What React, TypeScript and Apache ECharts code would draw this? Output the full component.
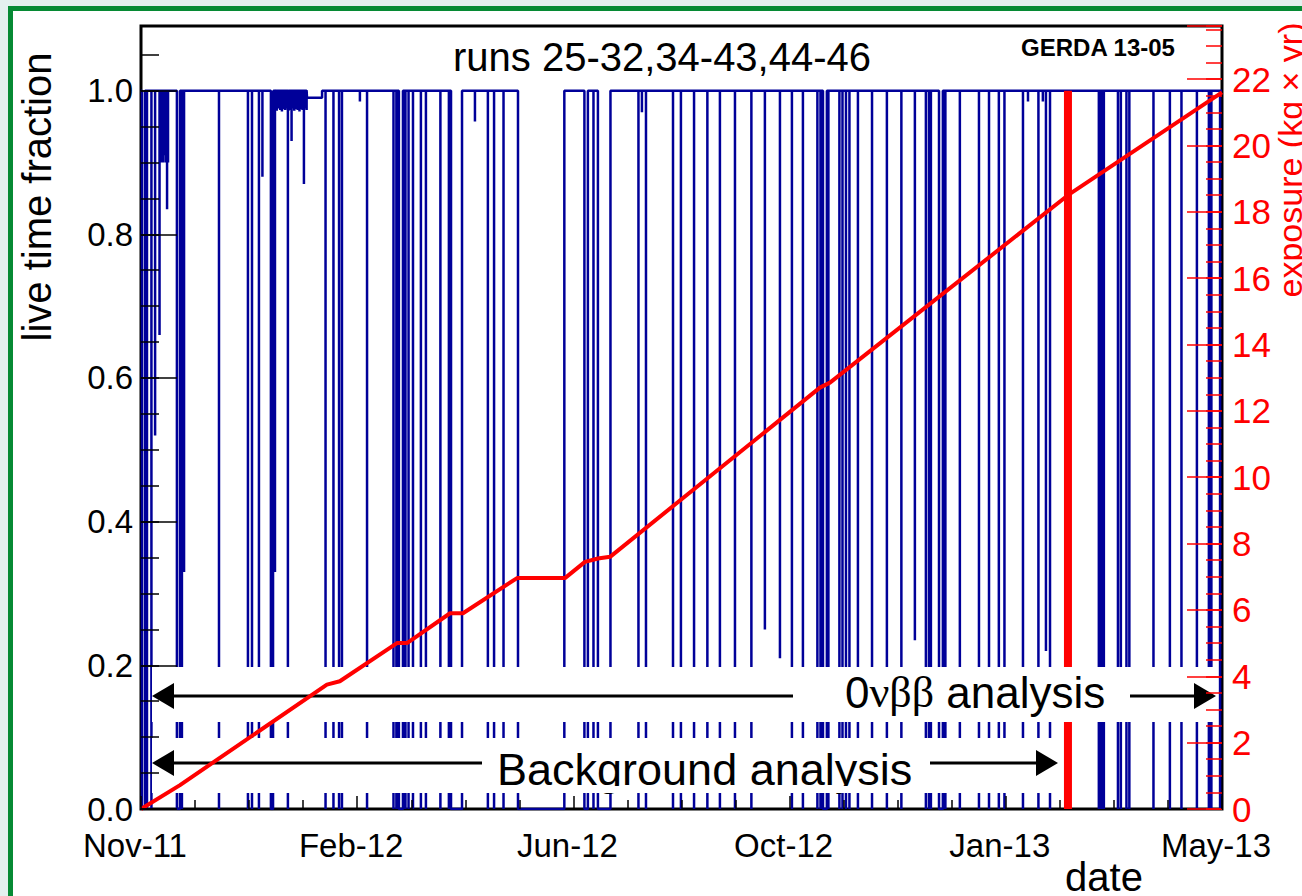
import React, { useEffect, useRef } from 'react';
import * as echarts from 'echarts';

// ---- axis definitions ----
const xTickLabels = ['Nov-11', 'Feb-12', 'Jun-12', 'Oct-12', 'Jan-13', 'May-13'];
const xTickStepDays = 112; // days between labelled ticks
const totalDays = 560; // Nov 9 2011 -> May 21 2013

// ---- live time fraction: dips below 1.0 (days since start) ----
const dipStart = [0.5, 3.1, 5.4, 7.3, 9.6, 10.9, 11.6, 12.3, 13.0, 13.5, 14.0, 18.6, 21.2, 22.3, 40.4, 55.4, 57.5, 61.1, 62.9, 67.3, 68.6, 69.4, 69.6, 70.3, 71.2, 72.1, 73.0, 73.9, 74.7, 75.4, 76.1, 76.4, 76.9, 77.6, 78.0, 78.6, 79.4, 80.3, 81.2, 82.1, 82.9, 83.7, 84.4, 85.1, 85.8, 86.0, 95.6, 99.7, 102.6, 104.1, 113.4, 117.1, 130.8, 132.3, 133.6, 137.0, 138.6, 140.9, 145.0, 147.6, 155.1, 159.5, 160.6, 173.0, 179.7, 182.9, 187.8, 195.3, 229.7, 234.4, 236.7, 257.7, 259.5, 261.6, 275.6, 279.7, 286.5, 293.4, 299.9, 307.7, 316.2, 323.2, 331.0, 337.2, 342.9, 350.4, 352.0, 353.3, 356.1, 361.8, 363.4, 365.2, 367.0, 371.4, 378.7, 386.4, 393.9, 400.9, 406.6, 408.2, 409.2, 413.4, 416.7, 424.2, 434.1, 439.3, 444.4, 447.3, 456.9, 459.5, 464.9, 467.2, 468.8, 470.9, 496.2, 497.5, 498.8, 506.1, 507.6, 510.5, 512.0, 524.5, 533.0, 539.0, 547.0, 553.2, 554.5, 559.0];
const dipEnd = [2.1, 3.1, 5.4, 7.3, 9.6, 10.9, 11.6, 12.3, 13.0, 13.5, 14.0, 20.2, 21.2, 22.3, 40.4, 55.4, 57.5, 61.1, 62.9, 68.4, 68.6, 69.4, 69.6, 70.3, 71.2, 72.1, 73.0, 73.9, 74.7, 75.4, 76.1, 76.4, 76.9, 77.6, 78.0, 78.6, 79.4, 80.3, 81.2, 82.1, 82.9, 83.7, 84.4, 85.1, 85.8, 93.8, 95.6, 99.7, 102.6, 104.1, 113.4, 117.1, 130.8, 132.3, 135.7, 137.0, 138.6, 140.9, 145.0, 147.6, 155.1, 159.5, 166.3, 173.0, 179.7, 182.9, 187.8, 219.3, 231.5, 234.4, 243.2, 257.7, 259.5, 261.6, 275.6, 279.7, 286.5, 293.4, 299.9, 307.7, 316.2, 323.2, 331.0, 337.2, 342.9, 350.4, 352.0, 355.3, 356.1, 361.8, 363.4, 365.2, 367.0, 371.4, 378.7, 386.4, 393.9, 400.9, 406.6, 408.2, 409.2, 415.4, 416.7, 424.2, 434.1, 439.3, 444.4, 447.3, 456.9, 459.5, 464.9, 467.2, 468.8, 470.9, 496.2, 497.5, 498.8, 506.1, 507.6, 510.5, 512.0, 524.5, 533.0, 539.0, 547.0, 553.2, 554.5, 559.0];
const dipLevel = [0, 0, 0, 0.52, 0.66, 0.9, 0.9, 0.91, 0.9, 0.835, 0.9, 0, 0, 0.33, 0, 0, 0, 0, 0.88, 0, 0.973, 0.33, 0.974, 0.972, 0.975, 0.973, 0.971, 0.974, 0.973, 0.975, 0, 0.972, 0.974, 0.973, 0.93, 0.975, 0.972, 0.974, 0.973, 0.971, 0.974, 0.973, 0.87, 0.975, 0.973, 0.99, 0, 0, 0, 0, 0.985, 0, 0, 0, 0, 0, 0, 0, 0, 0, 0, 0, 0, 0.957, 0, 0, 0, 0, 0, 0, 0, 0, 0.97, 0, 0, 0, 0, 0, 0, 0, 0, 0.25, 0.21, 0, 0, 0, 0, 0, 0, 0, 0, 0, 0, 0, 0, 0, 0, 0.235, 0, 0, 0, 0, 0, 0, 0, 0, 0, 0, 0, 0.985, 0, 0.985, 0.22, 0, 0, 0, 0, 0, 0, 0, 0, 0, 0, 0, 0, 0, 0, 0];

// ---- cumulative exposure (kg x yr) ----
const exposureDay = [0, 20.2, 96.3, 103.0, 132.6, 137.8, 160.1, 166.8, 194.8, 219.6, 230.0, 236.7, 243.0, 351.7, 356.9, 480.2, 560];
const exposureValue = [0, 0.72, 3.75, 3.85, 5.0, 5.0, 5.9, 5.9, 6.96, 6.96, 7.45, 7.55, 7.6, 12.7, 12.85, 18.5, 21.6];

// ---- end of background-analysis data set ----
const cutDay = 480.2;

const titleText = 'runs 25-32,34-43,44-46';
const tagText = 'GERDA 13-05';
const yLeftName = 'live time fraction';
const yRightName = 'exposure (kg \u00d7 yr)';
const xName = 'date';

const font = "'Liberation Sans', Arial, Helvetica, sans-serif";
const red = '#ff0000';
const black = '#000000';

export default function App() {
  const ref = useRef<HTMLDivElement>(null);
  useEffect(() => {
    const chart = echarts.init(ref.current!, null, { renderer: 'svg' });
    const liveData: number[][] = [[0, 1]];
    for (let i = 0; i < dipStart.length; i++) {
      liveData.push([dipStart[i], 1], [dipStart[i], dipLevel[i]], [dipEnd[i], dipLevel[i]], [dipEnd[i], 1]);
    }
    liveData.push([totalDays, 1]);
    const expData = exposureDay.map((d, i) => [d, exposureValue[i]]);

    const arrowLine = (x1: number, x2: number, y: number) => ({
      type: 'line', z: 6, silent: true, shape: { x1, y1: y, x2, y2: y }, style: { stroke: black, lineWidth: 3 },
    });
    const arrowHead = (pts: number[][]) => ({
      type: 'polygon', z: 6, silent: true, shape: { points: pts }, style: { fill: black },
    });

    chart.setOption({
      animation: false,
      grid: { left: 141, top: 26, width: 1081, height: 783, show: true, borderColor: black, borderWidth: 3, backgroundColor: 'transparent', outerBoundsMode: 'none' },
      xAxis: {
        type: 'value', min: 0, max: totalDays, interval: xTickStepDays, z: 12,
        axisLine: { show: false },
        axisTick: { show: true, inside: true, length: 13, lineStyle: { color: black, width: 1.5 } },
        minorTick: { show: true, splitNumber: 4, length: 9, lineStyle: { color: black, width: 1.5 } },
        splitLine: { show: false },
        axisLabel: {
          formatter: (v: number) => xTickLabels[Math.round(v / xTickStepDays)] ?? '',
          fontSize: 33, fontFamily: font, color: black, margin: 20, padding: [0, 12, 0, 0],
        },
      },
      yAxis: [
        {
          type: 'value', position: 'left', min: 0, max: 1.09, interval: 0.2, z: 12,
          axisLine: { show: false },
          axisTick: { show: true, inside: true, length: 36, lineStyle: { color: black, width: 1.5 } },
          splitLine: { show: false },
          axisLabel: { formatter: (v: number) => (v > 1.001 ? '' : v.toFixed(1)), fontSize: 33, fontFamily: font, color: black, margin: 8 },
        },
        {
          type: 'value', position: 'left', min: 0, max: 1.09, interval: 0.05, z: 12,
          axisLine: { show: false },
          axisTick: { show: true, inside: true, length: 18, lineStyle: { color: black, width: 1.5 } },
          splitLine: { show: false },
          axisLabel: { show: false },
        },
        {
          type: 'value', position: 'right', min: 0, max: 23.6, interval: 2, z: 12,
          axisLine: { show: false },
          axisTick: { show: true, inside: true, length: 35, lineStyle: { color: red, width: 1.5 } },
          splitLine: { show: false },
          axisLabel: { formatter: (v: number) => (v > 22.01 ? '' : String(v)), fontSize: 35, fontFamily: font, color: red, margin: 10 },
        },
        {
          type: 'value', position: 'right', min: 0, max: 23.6, interval: 0.5, z: 12,
          axisLine: { show: false },
          axisTick: { show: true, inside: true, length: 16, lineStyle: { color: red, width: 1.5 } },
          splitLine: { show: false },
          axisLabel: { show: false },
        },
      ],
      series: [
        {
          type: 'line', name: 'live time fraction', xAxisIndex: 0, yAxisIndex: 0, data: liveData,
          symbol: 'none', showSymbol: false, silent: true, z: 2,
          lineStyle: { color: '#000099', width: 2.5 },
        },
        {
          type: 'line', name: 'cut', xAxisIndex: 0, yAxisIndex: 0, data: [[cutDay, 0], [cutDay, 1]],
          symbol: 'none', showSymbol: false, silent: true, z: 3,
          lineStyle: { color: red, width: 8 },
        },
        {
          type: 'line', name: 'exposure', xAxisIndex: 0, yAxisIndex: 2, data: expData,
          symbol: 'none', showSymbol: false, silent: true, z: 10,
          lineStyle: { color: red, width: 4 },
        },
      ],
      graphic: [
        { type: 'rect', z: 5, silent: true, shape: { x: 152, y: 667, width: 1066, height: 55 }, style: { fill: '#fff' } },
        { type: 'rect', z: 5, silent: true, shape: { x: 152, y: 738, width: 910, height: 55 }, style: { fill: '#fff' } },
        arrowLine(170, 793, 696),
        arrowHead([[152, 696], [174, 683], [174, 709]]),
        arrowLine(1130, 1196, 696),
        arrowHead([[1216, 696], [1194, 683], [1194, 709]]),
        arrowLine(170, 482, 763),
        arrowHead([[152, 763], [174, 750], [174, 776]]),
        arrowLine(930, 1040, 763),
        arrowHead([[1058, 763], [1036, 750], [1036, 776]]),
        {
          type: 'text', z: 6, silent: true, x: 845, y: 692,
          style: {
            text: '{s|0}{g|\u03bd\u03b2\u03b2}{s| analysis}', fill: black, align: 'left', verticalAlign: 'middle',
            rich: {
              s: { fontSize: 44, fontFamily: font, fill: black },
              g: { fontSize: 44, fontFamily: "'Liberation Serif', 'DejaVu Serif', serif", fill: black },
            },
          },
        },
        {
          type: 'text', z: 6, silent: true, x: 497, y: 769,
          style: { text: 'Background analysis', fontSize: 45, fontFamily: font, fill: black, align: 'left', verticalAlign: 'middle' },
        },
        { type: 'rect', z: 7, silent: true, shape: { x: 490, y: 786, width: 440, height: 7 }, style: { fill: '#fff' } },
        {
          type: 'text', z: 6, silent: true, x: 662, y: 57,
          style: { text: titleText, fontSize: 40, fontFamily: font, fill: black, align: 'center', verticalAlign: 'middle' },
        },
        {
          type: 'text', z: 6, silent: true, x: 1098, y: 47,
          style: { text: tagText, fontSize: 24, fontWeight: 'bold', fontFamily: font, fill: black, align: 'center', verticalAlign: 'middle' },
        },
        {
          type: 'text', z: 6, silent: true, x: 37, y: 197, rotation: Math.PI / 2,
          style: { text: yLeftName, fontSize: 40, fontFamily: font, fill: black, align: 'center', verticalAlign: 'middle' },
        },
        {
          type: 'text', z: 6, silent: true, x: 1290, y: 160, rotation: Math.PI / 2,
          style: { text: yRightName, fontSize: 34, fontFamily: font, fill: red, align: 'center', verticalAlign: 'middle' },
        },
        {
          type: 'text', z: 6, silent: true, x: 1104, y: 877,
          style: { text: xName, fontSize: 40, fontFamily: font, fill: black, align: 'center', verticalAlign: 'middle' },
        },
      ],
    });
    return () => chart.dispose();
  }, []);

  return (
    <div style={{ position: 'fixed', left: 0, top: 0, width: 1302, height: 896, background: '#e4f0ef', overflow: 'hidden' }}>
      <div style={{ position: 'absolute', left: 8, top: 6, width: 1310, height: 900, borderLeft: '5px solid #068a34', borderTop: '5px solid #068a34', background: '#ffffff' }} />
      <div ref={ref} style={{ position: 'absolute', left: 0, top: 0, width: 1302, height: 896 }} />
    </div>
  );
}
